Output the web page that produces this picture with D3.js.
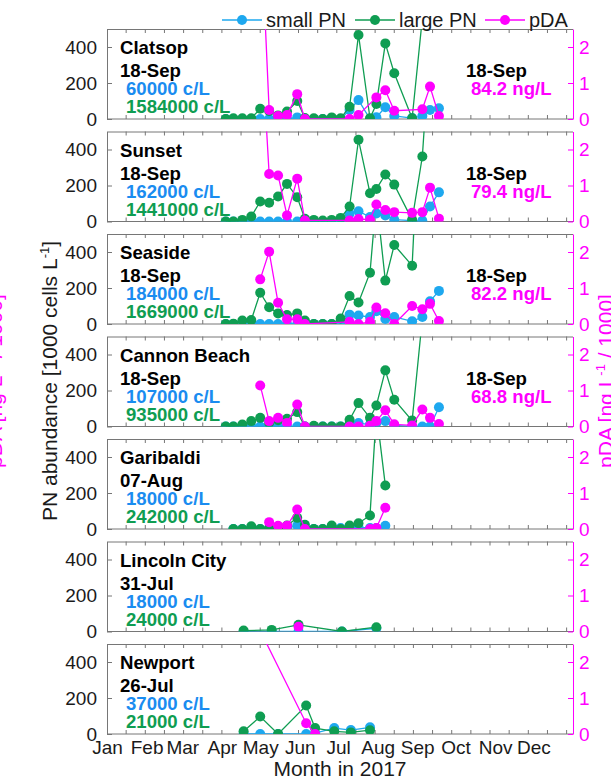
<!DOCTYPE html>
<html>
<head>
<meta charset="utf-8">
<script src="https://cdn.jsdelivr.net/npm/d3@7"></script>
<style>
  body { margin: 0; background: #fff; }
  text { font-family: "Liberation Sans", Arial, Helvetica, sans-serif; }
</style>
</head>
<body>
<div id="chart"></div>
<script>
// ---- data (PN in 1000 cells/L, pDA in ng/L / 1000) ----
var weeklyDates = ["2017-04-04","2017-04-10","2017-04-17","2017-04-24","2017-05-01","2017-05-08",
  "2017-05-15","2017-05-22","2017-05-30","2017-06-05","2017-06-12","2017-06-19","2017-06-26",
  "2017-07-03","2017-07-10","2017-07-17","2017-07-26","2017-07-31","2017-08-07","2017-08-14",
  "2017-08-28","2017-09-05","2017-09-11","2017-09-18"];
var weeklyDaDates = ["2017-05-01","2017-05-08","2017-05-15","2017-05-22","2017-05-30","2017-06-05",
  "2017-07-10","2017-07-17","2017-07-26","2017-07-31","2017-08-07","2017-08-14","2017-08-28",
  "2017-09-05","2017-09-11","2017-09-18"];

var clatsopSmall = [0,0,0,0,0,0,0,0,9,0,0,0,0,0,50,105,0,10,65,17,5,17,50,60];
var clatsopLarge = [0,4,4,4,57,45,20,41,100,5,4,0,9,4,68,467,4,83,420,254,4,560,900,1584];
var clatsopDaDates = ["2017-05-01","2017-05-08","2017-05-15","2017-05-22","2017-05-30","2017-06-05",
  "2017-07-10","2017-07-17","2017-07-31","2017-08-07","2017-08-14","2017-09-05","2017-09-11","2017-09-18"];
var clatsopDa = [5.8,0.25,0.08,0.11,0.69,0,0,0.11,0.6,0.8,0.23,0.27,0.9,0.0842];

var sunsetSmall = [0,0,0,0,0,0,0,0,0,0,0,0,0,0,43,57,25,45,33,10,5,4,83,162];
var sunsetLarge = [0,0,9,28,111,104,139,209,135,15,9,5,9,20,83,454,157,181,261,205,9,361,1000,1441];
var sunsetDa = [5.6,1.32,1.28,0.17,1.19,0.03,0.03,0.07,0.05,0.47,0.32,0.26,0.24,0.26,0.94,0.0794];

var seasideSmall = [0,0,0,0,0,0,0,0,0,0,0,0,0,0,52,47,39,71,28,39,15,39,126,184];
var seasideLarge = [0,2,19,22,174,93,59,50,59,19,0,0,0,31,156,119,285,700,241,439,324,1500,1800,1669];
var seasideDa = [1.24,2.01,0.59,0.13,0.13,0,0.06,0,0.06,0.46,0.3,0,0.5,0.41,0.56,0.0822];

var cannonSmall = [0,0,0,0,0,0,0,0,0,0,0,0,0,0,5,19,11,19,30,6,0,0,0,107];
var cannonLarge = [0,0,11,30,48,20,35,43,80,0,4,0,0,0,37,130,48,117,312,149,33,600,850,935];
var cannonDa = [1.14,0.15,0.24,0.1,0.61,0,0,0,0.02,0.15,0.45,0.06,0.03,0.47,0.24,0.0688];

var garibaldiDates = ["2017-04-10","2017-04-17","2017-04-24","2017-05-01","2017-05-08","2017-05-15",
  "2017-05-22","2017-05-30","2017-06-05","2017-06-12","2017-06-19","2017-06-26","2017-07-03",
  "2017-07-10","2017-07-17","2017-07-26","2017-07-31","2017-08-07"];
var garibaldiSmall = [0,0,0,0,0,0,5,19,5,0,0,0,5,5,10,5,5,18];
var garibaldiLarge = [0,0,15,0,5,5,19,62,24,0,0,19,0,19,32,75,650,242];
var garibaldiDaDates = ["2017-05-08","2017-05-15","2017-05-22","2017-05-30","2017-06-05",
  "2017-07-26","2017-07-31","2017-08-07"];
var garibaldiDa = [0.19,0.09,0.09,0.54,0,0,0.03,0.59];

var lincolnDates = ["2017-04-18","2017-05-10","2017-05-31","2017-07-04","2017-07-31"];
var lincolnSmall = [0,0,0,0,18];
var lincolnLarge = [5,9,37,0,24];
var lincolnDaDates = ["2017-05-31"];
var lincolnDa = [0.13];

var newportDates = ["2017-04-18","2017-05-01","2017-05-15","2017-06-06","2017-06-13","2017-06-28",
  "2017-07-11","2017-07-26"];
var newportSmall = [0,0,0,0,5,33,22,37];
var newportLarge = [15,97,0,158,33,15,9,21];
var newportDaDates = ["2017-04-18","2017-06-06","2017-06-13"];
var newportDa = [3.8,0.3,0];

var stationNames = ["Clatsop","Sunset","Seaside","Cannon Beach","Garibaldi","Lincoln City","Newport"];
var showDaText = [true,true,true,true,false,false,false];
var pnTicks = [0,200,400];
var daTicks = [0,1,2];
var seriesNames = ["small PN","large PN","pDA"];

var stations = [
  {dates: weeklyDates, small: clatsopSmall, large: clatsopLarge, daDates: clatsopDaDates, da: clatsopDa},
  {dates: weeklyDates, small: sunsetSmall, large: sunsetLarge, daDates: weeklyDaDates, da: sunsetDa},
  {dates: weeklyDates, small: seasideSmall, large: seasideLarge, daDates: weeklyDaDates, da: seasideDa},
  {dates: weeklyDates, small: cannonSmall, large: cannonLarge, daDates: weeklyDaDates, da: cannonDa},
  {dates: garibaldiDates, small: garibaldiSmall, large: garibaldiLarge, daDates: garibaldiDaDates, da: garibaldiDa},
  {dates: lincolnDates, small: lincolnSmall, large: lincolnLarge, daDates: lincolnDaDates, da: lincolnDa},
  {dates: newportDates, small: newportSmall, large: newportLarge, daDates: newportDaDates, da: newportDa}
];

// ---- layout ----
var L = 107, R = 573, top0 = 29, step = 102.5, ph = 90;
var blue = "#1ea8ef", blueText = "#1a8cf0", green = "#0f9d52", pink = "#ff00ff", frame = "#767676";

var parse = d3.timeParse("%Y-%m-%d");
var fmtDay = d3.timeFormat("%d-%b");

var svg = d3.select("#chart").append("svg")
    .attr("width", 611)
    .attr("height", 780);

var x = d3.scaleTime()
  .domain([new Date(2017, 0, 1), new Date(2018, 0, 1)])
  .range([L, R]);
var y = d3.scaleLinear().domain([0, 500]).range([ph, 0]);
var y2 = d3.scaleLinear().domain([0, 2.5]).range([ph, 0]);

var halfMonthTicks = d3.range(15, 365, 15).map(function(d) {
  return d3.timeDay.offset(new Date(2017, 0, 1), d);
});

var line = d3.line()
  .x(function(d) { return x(d.date); })
  .y(function(d) { return d.scale(d.v); });

function drawSeries(g, dates, vals, scale, color, clipId) {
  var pts = dates.map(function(d, i) { return {date: parse(d), v: vals[i], scale: scale}; });
  var s = g.append("g").attr("clip-path", "url(#" + clipId + ")");
  s.append("path")
    .datum(pts)
    .attr("d", line)
    .attr("fill", "none")
    .attr("stroke", color)
    .attr("stroke-width", 1.3);
  s.selectAll("circle")
    .data(pts)
    .enter()
    .append("circle")
      .attr("cx", function(d) { return x(d.date); })
      .attr("cy", function(d) { return scale(d.v); })
      .attr("r", 5)
      .attr("fill", color);
}

stations.forEach(function(st, i) {
  var g = svg.append("g").attr("transform", "translate(0," + (top0 + i * step) + ")");
  var clipId = "clip" + i;
  g.append("clipPath").attr("id", clipId)
    .append("rect").attr("x", L).attr("y", 0).attr("width", R - L).attr("height", ph);

  // frame lines top / bottom
  g.append("line").attr("x1", L).attr("x2", R).attr("y1", 0.5).attr("y2", 0.5).attr("stroke", frame);
  g.append("line").attr("x1", L).attr("x2", R).attr("y1", ph).attr("y2", ph).attr("stroke", frame);
  g.selectAll(".tt").data(halfMonthTicks).enter().append("line")
    .attr("x1", function(d) { return x(d); }).attr("x2", function(d) { return x(d); })
    .attr("y1", 0).attr("y2", 4).attr("stroke", frame);
  g.selectAll(".bt").data(halfMonthTicks).enter().append("line")
    .attr("x1", function(d) { return x(d); }).attr("x2", function(d) { return x(d); })
    .attr("y1", ph).attr("y2", ph - 4).attr("stroke", frame);

  // left axis
  var ax = g.append("g")
    .attr("transform", "translate(" + L + ",0)")
    .call(d3.axisLeft(y).tickValues(pnTicks).tickSize(-5).tickSizeOuter(0).tickPadding(10));
  ax.select(".domain").attr("stroke", frame);
  ax.selectAll("line").attr("stroke", frame);
  ax.selectAll("text").style("font-size", "19px").attr("fill", "#1a1a1a");

  // right axis
  var ax2 = g.append("g")
    .attr("transform", "translate(" + R + ",0)")
    .call(d3.axisRight(y2).tickValues(daTicks).tickFormat(d3.format("d"))
      .tickSize(-5).tickSizeOuter(0).tickPadding(6));
  ax2.select(".domain").attr("stroke", pink);
  ax2.selectAll("line").attr("stroke", pink);
  ax2.selectAll("text").style("font-size", "19px").attr("fill", pink);

  drawSeries(g, st.dates, st.small, y, blue, clipId);
  drawSeries(g, st.dates, st.large, y, green, clipId);
  drawSeries(g, st.daDates, st.da, y2, pink, clipId);

  var n = st.dates.length - 1;
  var bold = function(sel) { return sel.style("font-size", "18.6px").style("font-weight", "bold"); };
  bold(g.append("text").attr("x", 120).attr("y", 25).attr("fill", "#000").text(stationNames[i]));
  bold(g.append("text").attr("x", 120).attr("y", 48).attr("fill", "#000").text(fmtDay(parse(st.dates[n]))));
  bold(g.append("text").attr("x", 126).attr("y", 66).attr("fill", blueText).text(Math.round(st.small[n] * 1000) + " c/L"));
  bold(g.append("text").attr("x", 126).attr("y", 84).attr("fill", green).text(Math.round(st.large[n] * 1000) + " c/L"));
  if (showDaText[i]) {
    var m = st.daDates.length - 1;
    bold(g.append("text").attr("x", 466).attr("y", 48).attr("fill", "#000").text(fmtDay(parse(st.daDates[m]))));
    bold(g.append("text").attr("x", 471).attr("y", 66).attr("fill", pink).text((st.da[m] * 1000).toFixed(1) + " ng/L"));
  }

  if (i === stations.length - 1) {
    var bx = g.append("g")
      .attr("transform", "translate(0," + ph + ")")
      .call(d3.axisBottom(x)
        .tickValues(d3.timeMonth.range(new Date(2017, 0, 1), new Date(2018, 0, 1)))
        .tickFormat(d3.timeFormat("%b"))
        .tickSize(0).tickPadding(7));
    bx.select(".domain").remove();
    bx.selectAll("text").style("font-size", "19px").attr("fill", "#1a1a1a");
  }
});

// axis titles
svg.append("text")
  .attr("x", 340).attr("y", 776)
  .attr("text-anchor", "middle")
  .style("font-size", "21px").attr("fill", "#1a1a1a")
  .text("Month in 2017");

function rotLabel(px, parts, color) {
  var t = svg.append("text")
    .attr("transform", "translate(" + px + ",381) rotate(-90)")
    .attr("text-anchor", "middle")
    .style("font-size", "21px")
    .attr("fill", color);
  t.append("tspan").text(parts[0]);
  t.append("tspan").attr("dy", -8).style("font-size", "13px").text("-1");
  t.append("tspan").attr("dy", 8).text(parts[1]);
}
rotLabel(57, ["PN abundance [1000 cells L", "]"], "#1a1a1a");
rotLabel(613, ["pDA [ng L", " / 1000]"], pink);
rotLabel(2, ["pDA [ng L", " / 1000]"], pink);

// legend
var legX = [222, 355, 485];
var legColors = [blue, green, pink];
var leg = svg.append("g");
seriesNames.forEach(function(name, i) {
  leg.append("line").attr("x1", legX[i]).attr("x2", legX[i] + 40).attr("y1", 20).attr("y2", 20)
    .attr("stroke", legColors[i]).attr("stroke-width", 1.5);
  leg.append("circle").attr("cx", legX[i] + 20).attr("cy", 20).attr("r", 5).attr("fill", legColors[i]);
  leg.append("text").attr("x", legX[i] + 44).attr("y", 27)
    .style("font-size", "20px").attr("fill", "#1a1a1a").text(name);
});
</script>
</body>
</html>
